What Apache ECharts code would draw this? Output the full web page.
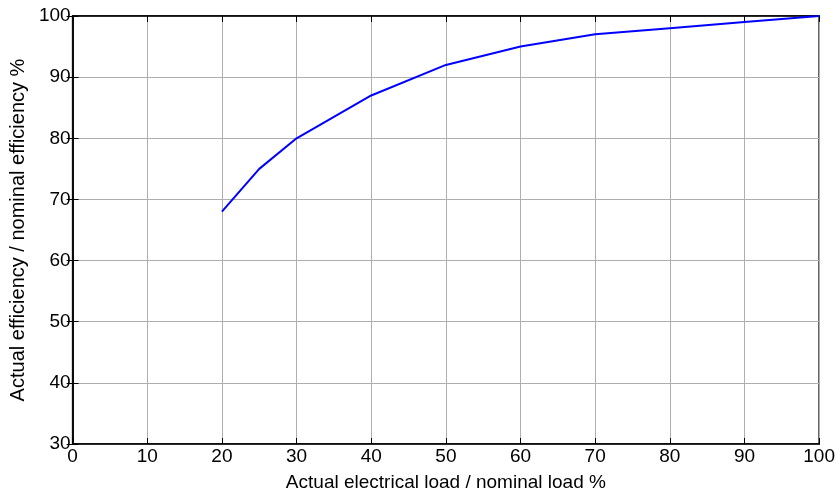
<!DOCTYPE html>
<html>
<head>
<meta charset="utf-8">
<script src="https://cdn.jsdelivr.net/npm/echarts@6/dist/echarts.min.js"></script>
<style>
  html, body { margin: 0; padding: 0; background: #fff; }
  #chart { width: 838px; height: 497px; }
</style>
</head>
<body>
<div id="chart"></div>
<script>
// Part-load efficiency curve
const loadPercent = [20, 25, 30, 40, 50, 60, 70, 80, 90, 100];
const efficiencyPercent = [68, 75, 80, 87, 92, 95, 97, 98, 99, 100];

const xTitle = 'Actual electrical load / nominal load %';
const yTitle = 'Actual efficiency / nominal efficiency %';

const FONT = 'Liberation Sans, Arial, sans-serif';

const chart = echarts.init(document.getElementById('chart'));

const tickStyle = { show: true, inside: true, length: 6, lineStyle: { color: '#000', width: 1 } };

chart.setOption({
  animation: false,
  grid: {
    left: 70, right: 16, top: 16, bottom: 50,
    show: true, borderColor: '#000', borderWidth: 1.5
  },
  xAxis: [{
    type: 'value', min: 0, max: 100, interval: 10,
    name: xTitle, nameLocation: 'middle', nameGap: 29,
    nameTextStyle: { fontFamily: FONT, fontSize: 19, color: '#000' },
    axisLine: { show: true, lineStyle: { color: '#000', width: 1.5 } },
    axisTick: tickStyle,
    axisLabel: { fontFamily: FONT, fontSize: 19, color: '#000', margin: 3 },
    splitLine: { show: true, lineStyle: { color: '#aeaeae', width: 1 } }
  }, {
    type: 'value', min: 0, max: 100, interval: 10, position: 'top',
    axisLine: { show: true, lineStyle: { color: '#000', width: 1.5 } },
    axisTick: tickStyle, axisLabel: { show: false }, splitLine: { show: false }
  }],
  yAxis: [{
    type: 'value', min: 30, max: 100, interval: 10,
    name: yTitle, nameLocation: 'middle', nameGap: 39,
    nameTextStyle: { fontFamily: FONT, fontSize: 20, color: '#000' },
    axisLine: { show: true, lineStyle: { color: '#000', width: 1.5 } },
    axisTick: tickStyle,
    axisLabel: { fontFamily: FONT, fontSize: 19, color: '#000', margin: 2 },
    splitLine: { show: true, lineStyle: { color: '#aeaeae', width: 1 } }
  }, {
    type: 'value', min: 30, max: 100, interval: 10, position: 'right',
    axisLine: { show: true, lineStyle: { color: '#000', width: 1.5 } },
    axisTick: tickStyle, axisLabel: { show: false }, splitLine: { show: false }
  }],
  series: [{
    type: 'line',
    data: loadPercent.map((x, i) => [x, efficiencyPercent[i]]),
    showSymbol: false,
    lineStyle: { color: '#0000ff', width: 2 },
    clip: false
  }]
});
</script>
</body>
</html>
